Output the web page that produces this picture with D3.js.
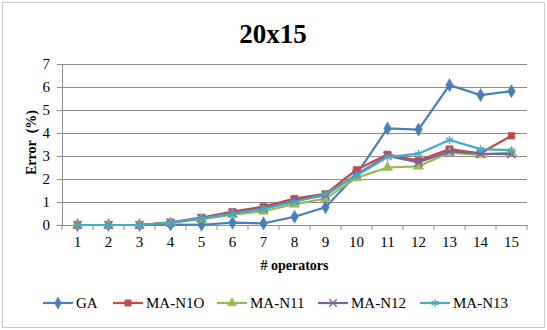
<!DOCTYPE html>
<html>
<head>
<meta charset="utf-8">
<script src="https://cdn.jsdelivr.net/npm/d3@7"></script>
<style>
  body { margin: 0; background: #fff; }
  svg, svg text { font-family: "Liberation Serif", "Times New Roman", "DejaVu Serif", serif !important; }
</style>
</head>
<body>
<div id="chart"></div>
<script>
// data
var operators = [1, 2, 3, 4, 5, 6, 7, 8, 9, 10, 11, 12, 13, 14, 15];
var seriesNames = ["GA", "MA-N1O", "MA-N11", "MA-N12", "MA-N13"];
var gaValues   = [0, 0, 0, 0.02, 0.01, 0.1, 0.07, 0.36, 0.77, 2.2, 4.2, 4.15, 6.08, 5.65, 5.82];
var n10Values  = [0, 0, 0, 0.12, 0.32, 0.58, 0.8, 1.15, 1.35, 2.4, 3.07, 2.8, 3.3, 3.12, 3.88];
var n11Values  = [0, 0, 0, 0.1, 0.25, 0.45, 0.6, 0.9, 1.15, 2.05, 2.5, 2.55, 3.15, 3.05, 3.15];
var n12Values  = [0, 0, 0, 0.1, 0.3, 0.52, 0.72, 1.05, 1.3, 2.2, 3.0, 2.72, 3.2, 3.1, 3.08];
var n13Values  = [0, 0, 0, 0.1, 0.28, 0.5, 0.7, 1.0, 1.35, 2.15, 2.95, 3.1, 3.7, 3.3, 3.25];
var yTicks = [0, 1, 2, 3, 4, 5, 6, 7];

var colors = ["#4a7ebb", "#be4b48", "#98b954", "#7d60a0", "#46aac5"];
var symbols = ["diamond", "square", "triangle", "cross", "star"];
var allValues = [gaValues, n10Values, n11Values, n12Values, n13Values];

var svgWidth = 547;
var svgHeight = 330;
var margin = { top: 64, left: 62 };
var width = 527 - margin.left;
var height = 225 - margin.top;

var svg = d3.select("#chart")
  .append("svg")
  .attr("width", svgWidth)
  .attr("height", svgHeight);

// outer frame
svg.append("rect")
  .attr("x", 2.5).attr("y", 2.5)
  .attr("width", svgWidth - 5).attr("height", svgHeight - 5)
  .attr("fill", "#fff")
  .attr("stroke", "#c8c8c8");

svg.append("text")
  .attr("x", 273).attr("y", 43)
  .attr("text-anchor", "middle")
  .style("font-size", "27px")
  .style("font-weight", "bold")
  .text("20x15");

var chartGroup = svg.append("g")
  .attr("transform", `translate(${margin.left}, ${margin.top})`);

var xScale = d3.scaleBand()
  .domain(operators)
  .range([0, width]);

var yScale = d3.scaleLinear()
  .domain([0, 7])
  .range([height, 0]);

// gridlines
chartGroup.selectAll(".grid")
  .data(yTicks)
  .enter()
  .append("line")
  .attr("x1", 0).attr("x2", width)
  .attr("y1", d => yScale(d) + 0.5).attr("y2", d => yScale(d) + 0.5)
  .attr("stroke", "#8c8c8c")
  .attr("stroke-width", 1);

// y axis
var leftAxis = d3.axisLeft(yScale).tickValues(yTicks).tickFormat(d3.format("d")).tickSize(5).tickPadding(7);
var yAxis = chartGroup.append("g").call(leftAxis);
yAxis.attr("font-family", null).attr("font-size", null);
yAxis.select(".domain").attr("stroke", "#8c8c8c");
yAxis.selectAll("line").attr("stroke", "#8c8c8c");
yAxis.selectAll("text").style("font-size", "15px").attr("fill", "#000");

// x axis, ticks between categories
var bottomAxis = d3.axisBottom(xScale).tickSize(0).tickPadding(11);
var xAxis = chartGroup.append("g")
  .attr("transform", `translate(0, ${height})`)
  .call(bottomAxis);
xAxis.attr("font-family", null).attr("font-size", null);
xAxis.select(".domain").attr("stroke", "#8c8c8c");
xAxis.selectAll("text").style("font-size", "15px").attr("fill", "#000");
xAxis.selectAll(".sep")
  .data(d3.range(operators.length + 1))
  .enter()
  .append("line")
  .attr("x1", i => i * xScale.step()).attr("x2", i => i * xScale.step())
  .attr("y1", 0).attr("y2", 5)
  .attr("stroke", "#8c8c8c");

// axis titles
chartGroup.append("text")
  .attr("x", width / 2)
  .attr("y", height + 45)
  .attr("text-anchor", "middle")
  .style("font-size", "14px")
  .style("font-weight", "bold")
  .text("# operators");

chartGroup.append("text")
  .attr("transform", "rotate(-90)")
  .attr("x", -(height / 2) + 2)
  .attr("y", -26)
  .attr("text-anchor", "middle")
  .style("font-size", "14px")
  .style("font-weight", "bold")
  .text("Error\u00a0\u00a0(%)");

function symbolPath(kind, size) {
  if (kind === "diamond") return d3.symbol(d3.symbolDiamond, size)();
  if (kind === "square") return d3.symbol(d3.symbolSquare, size)();
  if (kind === "triangle") return d3.symbol(d3.symbolTriangle, size)();
  if (kind === "cross") return d3.symbol(d3.symbolX, size)();
  return d3.symbol(d3.symbolAsterisk, size)();
}

var line = d3.line()
  .x((d, i) => xScale(operators[i]) + xScale.bandwidth() / 2)
  .y(d => yScale(d));

allValues.forEach(function(vals, s) {
  chartGroup.append("path")
    .datum(vals)
    .attr("fill", "none")
    .attr("stroke", colors[s])
    .attr("stroke-width", 2.2)
    .attr("d", line);

  chartGroup.selectAll(".m" + s)
    .data(vals)
    .enter()
    .append("path")
    .attr("transform", (d, i) => `translate(${xScale(operators[i]) + xScale.bandwidth() / 2}, ${yScale(d)})`)
    .attr("d", symbolPath(symbols[s], s === 0 ? 50 : 45))
    .attr("fill", (s === 3 || s === 4) ? "none" : colors[s])
    .attr("stroke", colors[s])
    .attr("stroke-width", (s === 3 || s === 4) ? 1.3 : 0.5);
});

// legend
var legendX = [43, 113, 217, 318, 420];
var legend = svg.append("g").attr("transform", "translate(0, 303)");
seriesNames.forEach(function(name, s) {
  var g = legend.append("g").attr("transform", `translate(${legendX[s]}, 0)`);
  g.append("line")
    .attr("x1", 0).attr("x2", 30)
    .attr("stroke", colors[s])
    .attr("stroke-width", 2.2);
  g.append("path")
    .attr("transform", "translate(15, 0)")
    .attr("d", symbolPath(symbols[s], 40))
    .attr("fill", (s === 3 || s === 4) ? "none" : colors[s])
    .attr("stroke", colors[s])
    .attr("stroke-width", (s === 3 || s === 4) ? 1.3 : 0.5);
  g.append("text")
    .attr("x", 33)
    .attr("y", 5)
    .style("font-size", "15px")
    .text(name);
});
</script>
</body>
</html>
